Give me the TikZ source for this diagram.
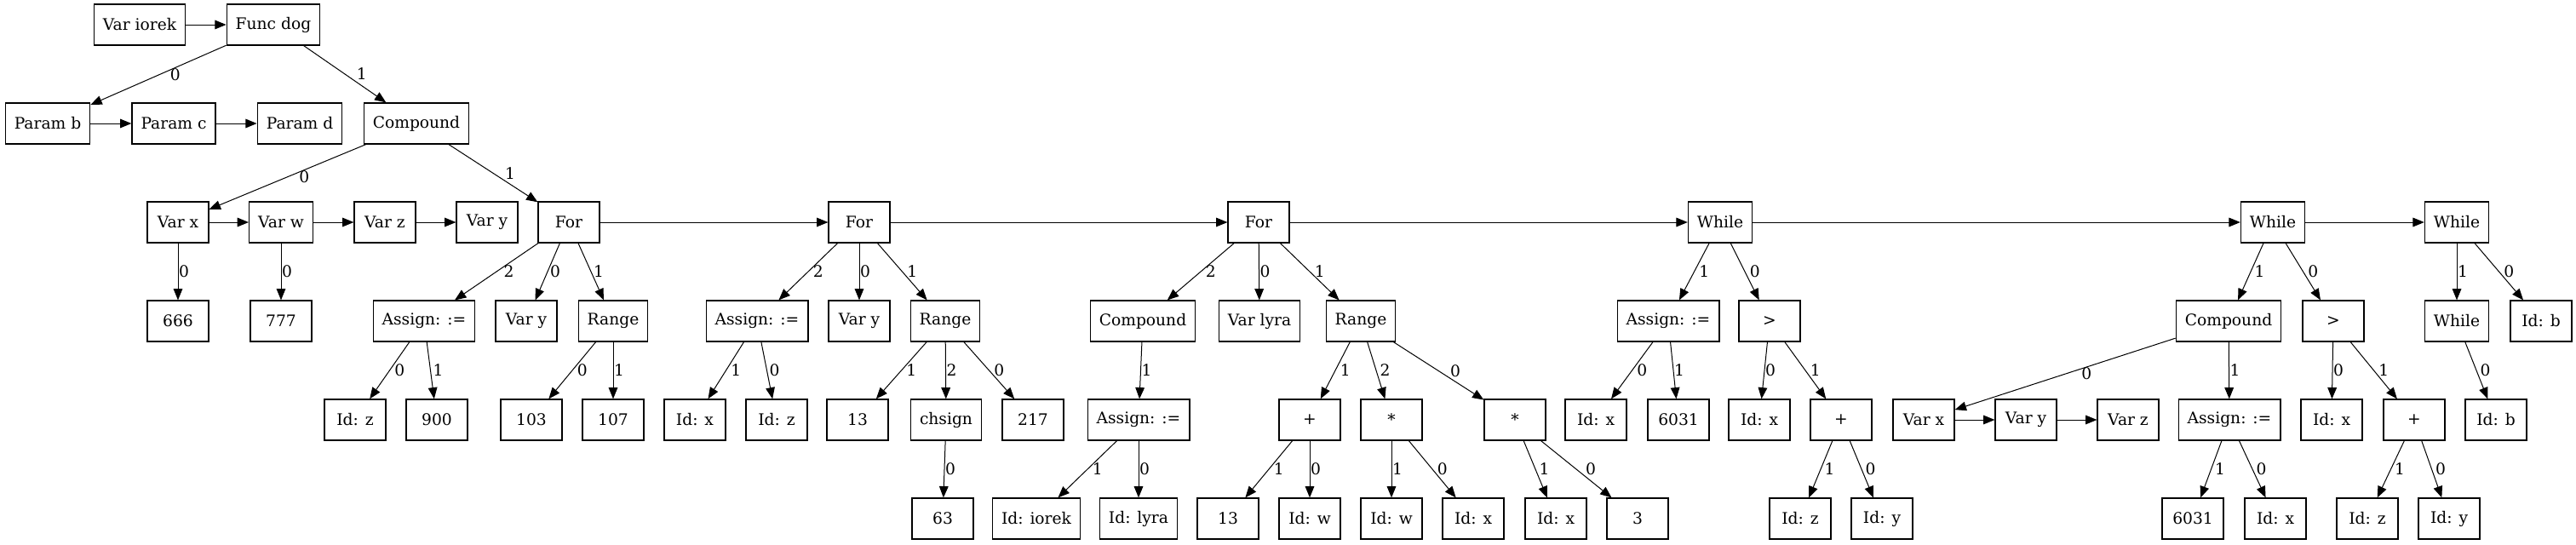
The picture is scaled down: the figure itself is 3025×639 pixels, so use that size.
\documentclass[tikz,border=0pt]{standalone}
\usepackage{fontspec}
\setmainfont{DejaVu Serif}
\usetikzlibrary{arrows.meta}

\begin{document}
\begin{tikzpicture}[x=0.75pt,y=-0.75pt,>={Triangle[length=10pt,width=8pt]},line width=0.75pt,
      box/.style={rectangle,draw=black,line width=0.9pt,text=black,font=\fontsize{14}{16}\selectfont,
        minimum width=54pt,minimum height=36pt,inner xsep=7.9pt,inner ysep=0pt},
      lab/.style={anchor=west,inner sep=0pt,font=\fontsize{14}{16}\selectfont,xshift=#1},
      lab/.default=0.5pt]
      \useasboundingbox (0,0) rectangle (3025,639);
      % row 0
      \node[box] (vi) at (164,29) {Var iorek};
      \node[box] (fd) at (321,29) {Func dog};
      % row 1
      \node[box] (pb) at (56,145) {Param b};
      \node[box] (pc) at (204,145) {Param c};
      \node[box] (pd) at (352,145) {Param d};
      \node[box] (cmp) at (489,145) {Compound};
      % row 2
      \node[box] (vx) at (209,261) {Var x};
      \node[box] (vw) at (330,261) {Var w};
      \node[box] (vz) at (452,261) {Var z};
      \node[box] (vy) at (572,261) {Var y};
      \node[box] (for1) at (668,261) {For};
      \node[box] (for2) at (1009,261) {For};
      \node[box] (for3) at (1478,261) {For};
      \node[box] (wh1) at (2020,261) {While};
      \node[box] (wh2) at (2669,261) {While};
      \node[box] (wh3) at (2885,261) {While};
      % row 3
      \node[box] (c666) at (209,377) {666};
      \node[box] (c777) at (330,377) {777};
      \node[box] (as1) at (498,377) {Assign: :=};
      \node[box] (vy1) at (618,377) {Var y};
      \node[box] (rg1) at (720,377) {Range};
      \node[box] (as2) at (889,377) {Assign: :=};
      \node[box] (vy2) at (1009,377) {Var y};
      \node[box] (rg2) at (1110,377) {Range};
      \node[box] (cmp2) at (1342,377) {Compound};
      \node[box] (vl) at (1479,377) {Var lyra};
      \node[box] (rg3) at (1598,377) {Range};
      \node[box] (as4) at (1959,377) {Assign: :=};
      \node[box] (gt1) at (2078,377) {>};
      \node[box] (cmp3) at (2617,377) {Compound};
      \node[box] (gt2) at (2740,377) {>};
      \node[box] (wh4) at (2885,377) {While};
      \node[box] (idb1) at (2984,377) {Id: b};
      % row 4
      \node[box] (idz1) at (417,493) {Id: z};
      \node[box] (c900) at (513,493) {900};
      \node[box] (c103) at (624,493) {103};
      \node[box] (c107) at (720,493) {107};
      \node[box] (idx1) at (816,493) {Id: x};
      \node[box] (idz2) at (912,493) {Id: z};
      \node[box] (c13a) at (1007,493) {13};
      \node[box] (chs) at (1111,493) {chsign};
      \node[box] (c217) at (1213,493) {217};
      \node[box] (as3) at (1337,493) {Assign: :=};
      \node[box] (pl1) at (1538,493) {+};
      \node[box] (ml1) at (1634,493) {*};
      \node[box] (ml2) at (1779,493) {*};
      \node[box] (idx3) at (1874,493) {Id: x};
      \node[box] (c6031a) at (1971,493) {6031};
      \node[box] (idx4) at (2066,493) {Id: x};
      \node[box] (pl2) at (2162,493) {+};
      \node[box] (vx2) at (2259,493) {Var x};
      \node[box] (vy3) at (2379,493) {Var y};
      \node[box] (vz2) at (2499,493) {Var z};
      \node[box] (as5) at (2618,493) {Assign: :=};
      \node[box] (idx5) at (2738,493) {Id: x};
      \node[box] (pl3) at (2835,493) {+};
      \node[box] (idb2) at (2931,493) {Id: b};
      % row 5
      \node[box] (c63) at (1107,609) {63};
      \node[box] (idio) at (1217,609) {Id: iorek};
      \node[box] (idly) at (1337,609) {Id: lyra};
      \node[box] (c13b) at (1442,609) {13};
      \node[box] (idw1) at (1538,609) {Id: w};
      \node[box] (idw2) at (1634,609) {Id: w};
      \node[box] (idx6) at (1730,609) {Id: x};
      \node[box] (idx7) at (1827,609) {Id: x};
      \node[box] (c3) at (1923,609) {3};
      \node[box] (idz3) at (2114,609) {Id: z};
      \node[box] (idy1) at (2210,609) {Id: y};
      \node[box] (c6031b) at (2575,609) {6031};
      \node[box] (idx8) at (2672,609) {Id: x};
      \node[box] (idz4) at (2780,609) {Id: z};
      \node[box] (idy2) at (2876,609) {Id: y};
      % sibling chains
      \draw[->] (vi) -- (fd);
      \draw[->] (pb) -- (pc);
      \draw[->] (pc) -- (pd);
      \draw[->] (vx) -- (vw);
      \draw[->] (vw) -- (vz);
      \draw[->] (vz) -- (vy);
      \draw[->] (for1) -- (for2);
      \draw[->] (for2) -- (for3);
      \draw[->] (for3) -- (wh1);
      \draw[->] (wh1) -- (wh2);
      \draw[->] (wh2) -- (wh3);
      \draw[->] (vx2) -- (vy3);
      \draw[->] (vy3) -- (vz2);
      % children
      \draw[->] (fd) -- node[lab=10pt] {0} (pb);
      \draw[->] (fd) -- node[lab=10pt] {1} (cmp);
      \draw[->] (cmp) -- node[lab=10pt] {0} (vx);
      \draw[->] (cmp) -- node[lab=10pt] {1} (for1);
      \draw[->] (vx) -- node[lab] {0} (c666);
      \draw[->] (vw) -- node[lab] {0} (c777);
      \draw[->] (for1) -- node[lab=6pt] {2} (as1);
      \draw[->] (for1) -- node[lab=2pt] {0} (vy1);
      \draw[->] (for1) -- node[lab=2pt] {1} (rg1);
      \draw[->] (as1) -- node[lab=4pt] {0} (idz1);
      \draw[->] (as1) -- node[lab=2pt] {1} (c900);
      \draw[->] (rg1) -- node[lab=4pt] {0} (c103);
      \draw[->] (rg1) -- node[lab] {1} (c107);
      \draw[->] (for2) -- node[lab=4pt] {2} (as2);
      \draw[->] (for2) -- node[lab] {0} (vy2);
      \draw[->] (for2) -- node[lab=4pt] {1} (rg2);
      \draw[->] (as2) -- node[lab=4pt] {1} (idx1);
      \draw[->] (as2) -- node[lab=2pt] {0} (idz2);
      \draw[->] (rg2) -- node[lab=4pt] {1} (c13a);
      \draw[->] (rg2) -- node[lab] {2} (chs);
      \draw[->] (rg2) -- node[lab=4pt] {0} (c217);
      \draw[->] (chs) -- node[lab] {0} (c63);
      \draw[->] (for3) -- node[lab=4pt] {2} (cmp2);
      \draw[->] (for3) -- node[lab] {0} (vl);
      \draw[->] (for3) -- node[lab=4pt] {1} (rg3);
      \draw[->] (cmp2) -- node[lab] {1} (as3);
      \draw[->] (as3) -- node[lab=4pt] {1} (idio);
      \draw[->] (as3) -- node[lab] {0} (idly);
      \draw[->] (rg3) -- node[lab=4pt] {1} (pl1);
      \draw[->] (rg3) -- node[lab=3pt] {2} (ml1);
      \draw[->] (rg3) -- node[lab=10pt] {0} (ml2);
      \draw[->] (pl1) -- node[lab=4pt] {1} (c13b);
      \draw[->] (pl1) -- node[lab] {0} (idw1);
      \draw[->] (ml1) -- node[lab] {1} (idw2);
      \draw[->] (ml1) -- node[lab=4pt] {0} (idx6);
      \draw[->] (ml2) -- node[lab=3pt] {1} (idx7);
      \draw[->] (ml2) -- node[lab=8pt] {0} (c3);
      \draw[->] (wh1) -- node[lab=4pt] {1} (as4);
      \draw[->] (wh1) -- node[lab=4pt] {0} (gt1);
      \draw[->] (as4) -- node[lab=4pt] {0} (idx3);
      \draw[->] (as4) -- node[lab] {1} (c6031a);
      \draw[->] (gt1) -- node[lab] {0} (idx4);
      \draw[->] (gt1) -- node[lab=4pt] {1} (pl2);
      \draw[->] (pl2) -- node[lab=3pt] {1} (idz3);
      \draw[->] (pl2) -- node[lab=3pt] {0} (idy1);
      \draw[->] (wh2) -- node[lab=3pt] {1} (cmp3);
      \draw[->] (wh2) -- node[lab=4pt] {0} (gt2);
      \draw[->] (cmp3) -- node[lab=14pt] {0} (vx2);
      \draw[->] (cmp3) -- node[lab] {1} (as5);
      \draw[->] (as5) -- node[lab=3pt] {1} (c6031b);
      \draw[->] (as5) -- node[lab=3pt] {0} (idx8);
      \draw[->] (gt2) -- node[lab] {0} (idx5);
      \draw[->] (gt2) -- node[lab=4pt] {1} (pl3);
      \draw[->] (pl3) -- node[lab=3pt] {1} (idz4);
      \draw[->] (pl3) -- node[lab=3pt] {0} (idy2);
      \draw[->] (wh3) -- node[lab] {1} (wh4);
      \draw[->] (wh3) -- node[lab=4pt] {0} (idb1);
      \draw[->] (wh4) -- node[lab=3pt] {0} (idb2);
\end{tikzpicture}
\end{document}
